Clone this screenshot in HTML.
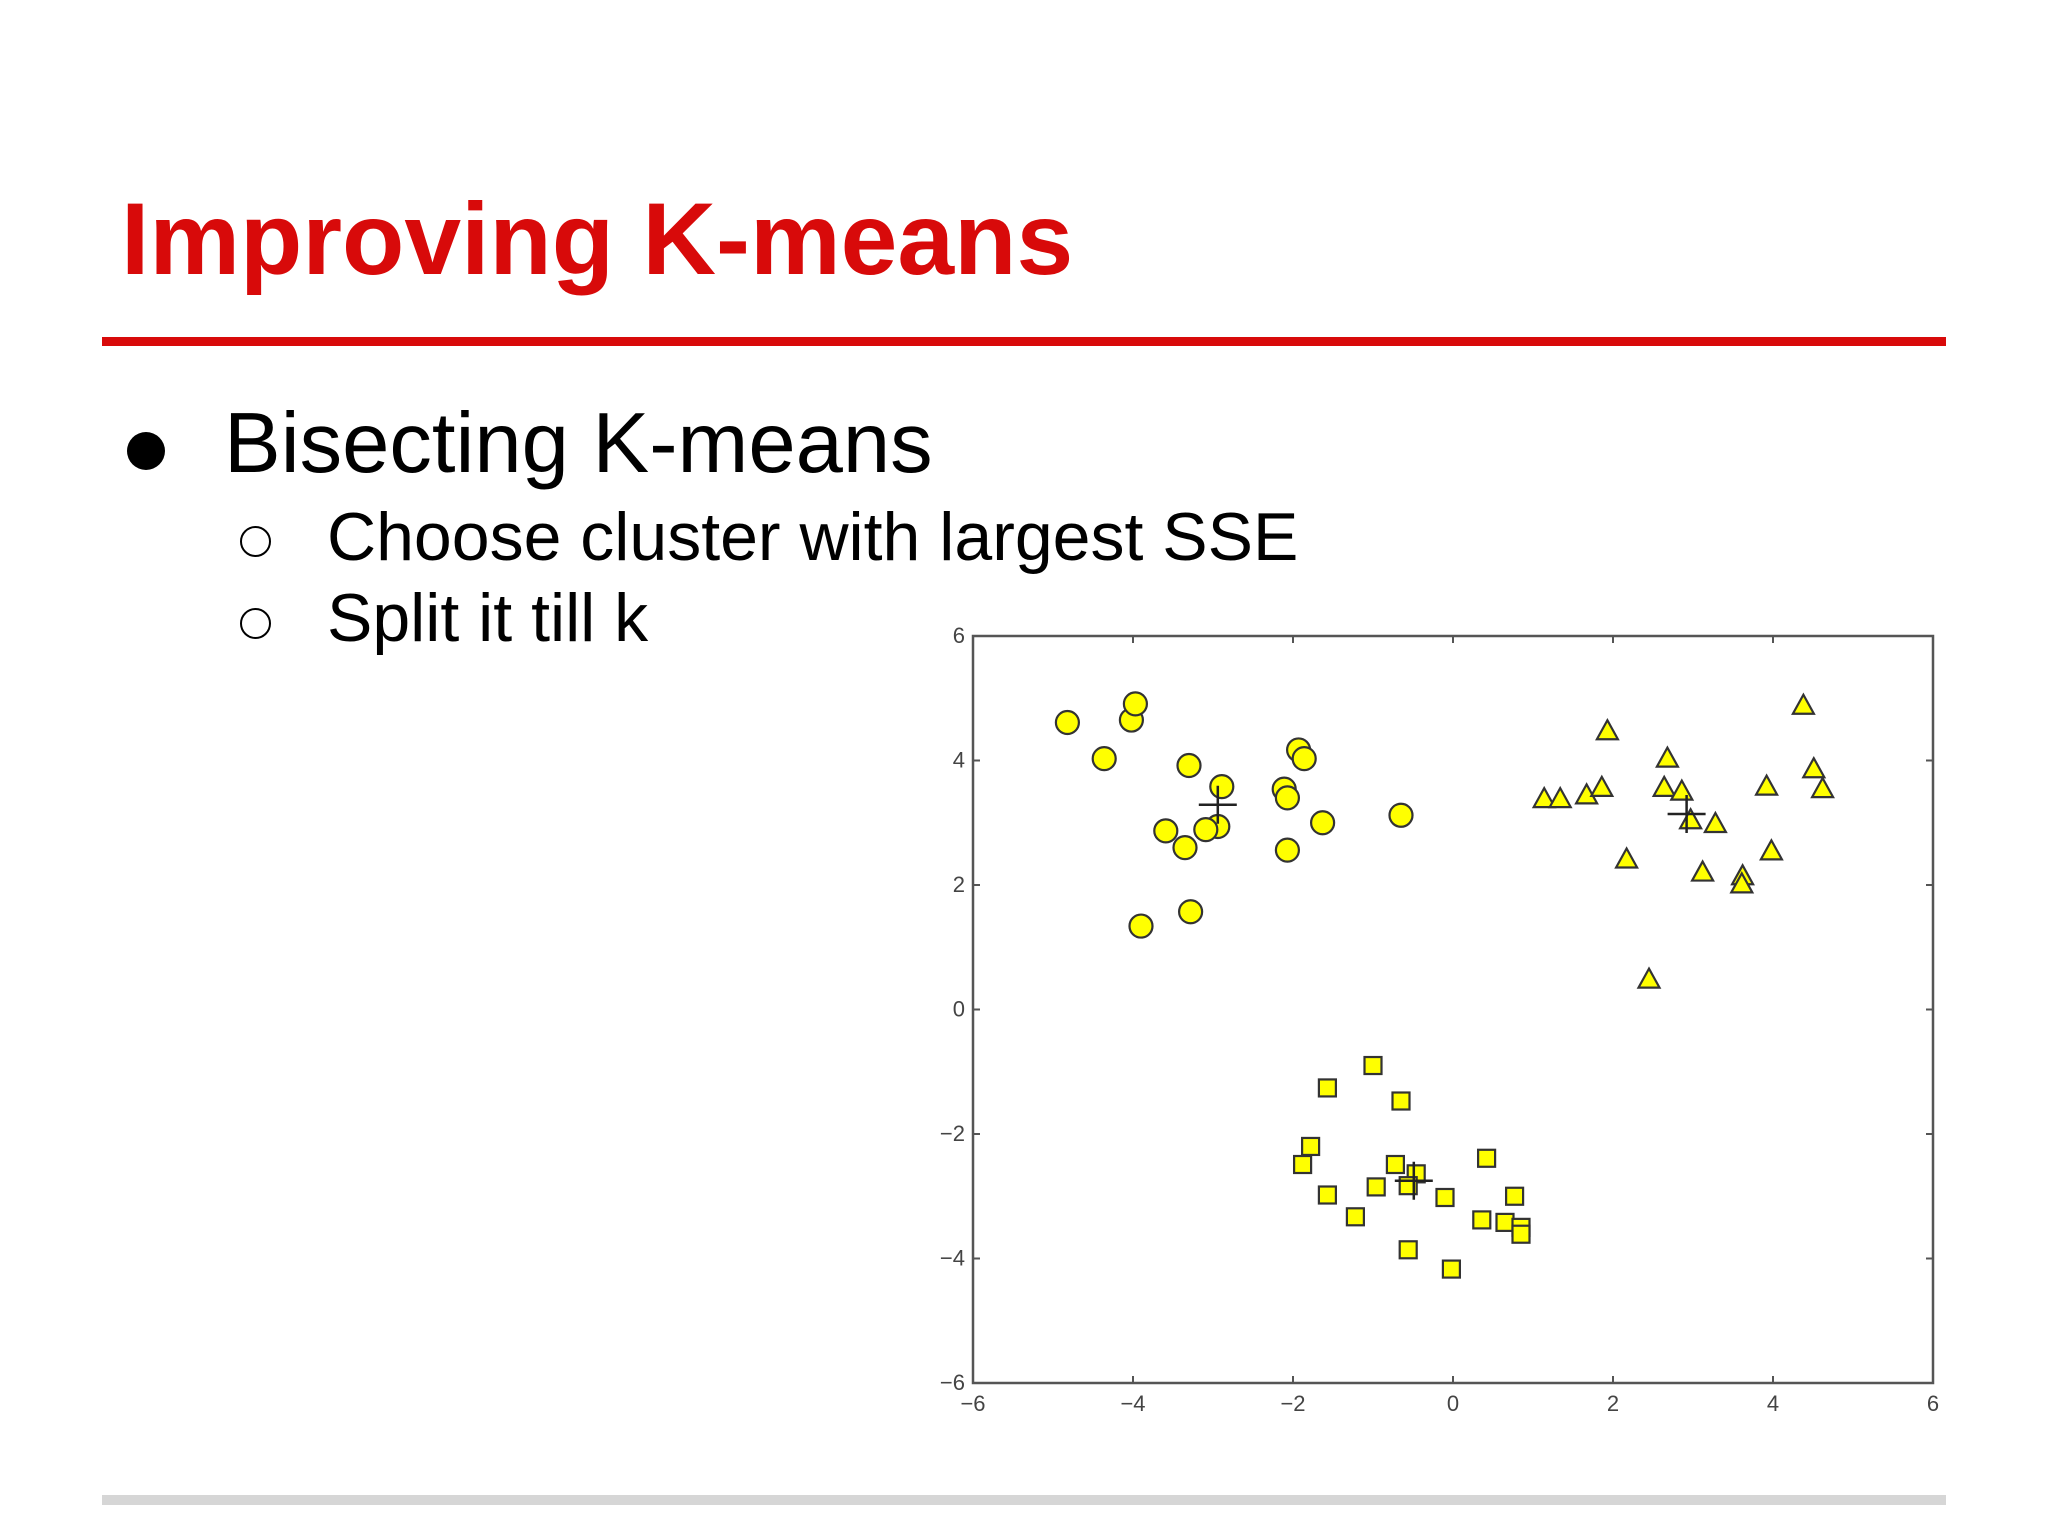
<!DOCTYPE html>
<html><head><meta charset="utf-8"><style>
html,body{margin:0;padding:0;background:#fff;}
body{width:2048px;height:1536px;position:relative;overflow:hidden;font-family:"Liberation Sans",sans-serif;}
.t{position:absolute;white-space:nowrap;}
</style></head><body>
<div class="t" style="left:121px;top:188px;font-size:102px;font-weight:bold;color:#d80a0a;line-height:1;">Improving K-means</div>
<div style="position:absolute;left:102px;top:337px;width:1844px;height:9px;background:#d80a0a;"></div>
<div style="position:absolute;left:127px;top:432px;width:38px;height:38px;border-radius:50%;background:#000;"></div>
<div class="t" style="left:224px;top:401px;font-size:85px;color:#000;line-height:1;">Bisecting K-means</div>
<div style="position:absolute;left:240px;top:526px;width:27px;height:27px;border-radius:50%;border:2px solid #000;"></div>
<div class="t" style="left:327px;top:503px;font-size:68px;color:#000;line-height:1;">Choose cluster with largest SSE</div>
<div style="position:absolute;left:240px;top:608px;width:27px;height:27px;border-radius:50%;border:2px solid #000;"></div>
<div class="t" style="left:327px;top:584px;font-size:68px;color:#000;line-height:1;">Split it till k</div>
<div style="position:absolute;left:102px;top:1495px;width:1844px;height:10px;background:#d6d6d6;"></div>
<svg id="chart" width="2048" height="1536" style="position:absolute;left:0;top:0;" xmlns="http://www.w3.org/2000/svg"></svg>
<script>
const xTicks=[-6,-4,-2,0,2,4,6];
const yTicks=[-6,-4,-2,0,2,4,6];
const circX=[-4.82,-4.36,-4.02,-3.97,-3.30,-2.89,-2.94,-3.09,-3.59,-3.35,-2.11,-2.07,-1.93,-1.86,-1.63,-0.65,-2.07,-3.90,-3.28];
const circY=[4.61,4.03,4.65,4.91,3.92,3.58,2.94,2.89,2.87,2.60,3.54,3.40,4.17,4.03,3.00,3.12,2.56,1.34,1.57];
const triX=[1.14,1.34,1.67,1.86,1.93,2.64,2.68,2.86,2.97,3.28,2.17,3.12,3.62,3.61,3.98,3.92,4.38,4.51,4.62,2.45];
const triY=[3.38,3.38,3.44,3.56,4.47,3.56,4.03,3.50,3.04,2.98,2.41,2.20,2.14,2.01,2.54,3.58,4.88,3.86,3.54,0.48];
const sqX=[-1.00,-1.57,-0.65,-1.78,-1.88,-0.72,-0.46,-0.56,-0.96,-1.57,-0.10,0.42,0.77,-1.22,0.36,0.65,0.85,0.85,-0.56,-0.02];
const sqY=[-0.90,-1.26,-1.47,-2.20,-2.49,-2.49,-2.64,-2.83,-2.85,-2.98,-3.02,-2.39,-3.00,-3.33,-3.38,-3.42,-3.50,-3.61,-3.86,-4.17];
const centX=[-2.94,2.92,-0.49];
const centY=[3.29,3.14,-2.75];
const L=973,R=1933,T=636,B=1383;
const sx=v=>L+(v+6)/12*(R-L);
const sy=v=>B-(v+6)/12*(B-T);
const svg=document.getElementById('chart');
const NS='http://www.w3.org/2000/svg';
function mk(tag,attrs){const e=document.createElementNS(NS,tag);for(const k in attrs)e.setAttribute(k,attrs[k]);svg.appendChild(e);return e;}
let e=mk('rect',{x:L,y:T,width:R-L,height:B-T,fill:'#fff',stroke:'#555','stroke-width':2.5});


xTicks.forEach(v=>{
  const x=sx(v);
  let t=mk('line',{x1:x,x2:x,y1:B,y2:B-7,stroke:'#555','stroke-width':2});
  
  
  t=mk('line',{x1:x,x2:x,y1:T,y2:T+7,stroke:'#555','stroke-width':2});
  
  
  const lb=mk('text',{x:x,y:B+28,'text-anchor':'middle','font-size':22,fill:'#444','font-family':'Liberation Sans, sans-serif'});
  lb.textContent=(v<0?'\u2212':'')+Math.abs(v);
  
  
});
yTicks.forEach(v=>{
  const y=sy(v);
  let t=mk('line',{x1:L,x2:L+7,y1:y,y2:y,stroke:'#555','stroke-width':2});
  
  
  t=mk('line',{x1:R,x2:R-7,y1:y,y2:y,stroke:'#555','stroke-width':2});
  
  
  const lb=mk('text',{x:L-8,y:y+7,'text-anchor':'end','font-size':22,fill:'#444','font-family':'Liberation Sans, sans-serif'});
  lb.textContent=(v<0?'\u2212':'')+Math.abs(v);
  
  
});
const st={fill:'#ffff00',stroke:'#333','stroke-width':2.2};
circX.forEach((v,i)=>{
  const c=mk('circle',Object.assign({cx:sx(v),cy:sy(circY[i]),r:11.5},st));
  
  
});
triX.forEach((v,i)=>{
  const x=sx(v),y=sy(triY[i]);
  const p=mk('polygon',Object.assign({points:`${x},${y-11} ${x-10.5},${y+8} ${x+10.5},${y+8}`},st));
  
  
});
sqX.forEach((v,i)=>{
  const x=sx(v),y=sy(sqY[i]);
  const r=mk('rect',Object.assign({x:x-8.5,y:y-8.5,width:17,height:17},st));
  
  
});
centX.forEach((v,i)=>{
  const x=sx(v),y=sy(centY[i]);
  const g=mk('path',{d:`M${x-19},${y}H${x+19}M${x},${y-19}V${y+19}`,stroke:'#222','stroke-width':2.5,fill:'none'});
  
  
});
</script>
</body></html>
